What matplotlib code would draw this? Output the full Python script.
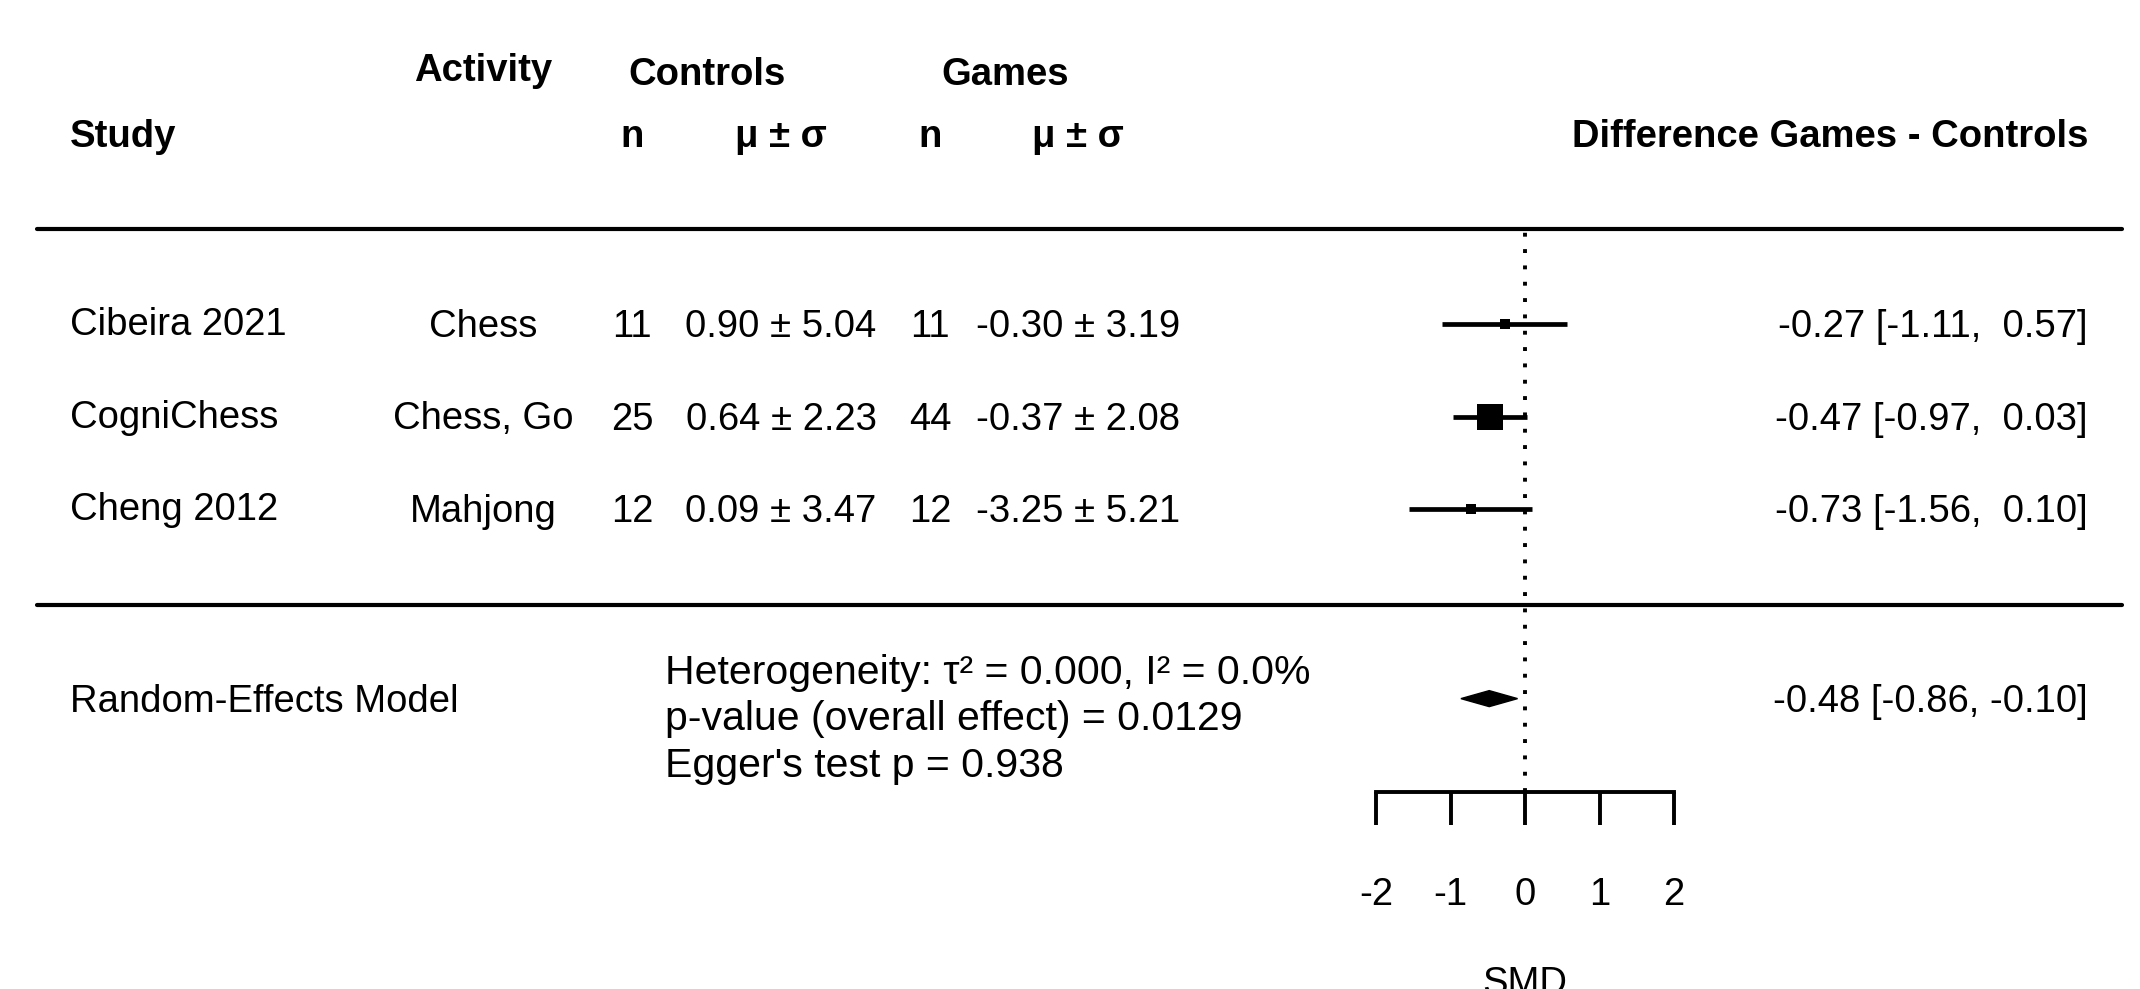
import numpy as np
import matplotlib.pyplot as plt
from matplotlib.patches import Polygon

studies = ["Cibeira 2021", "CogniChess", "Cheng 2012"]
activities = ["Chess", "Chess, Go", "Mahjong"]
n_controls = [11, 25, 12]
mean_controls = [0.90, 0.64, 0.09]
sd_controls = [5.04, 2.23, 3.47]
n_games = [11, 44, 12]
mean_games = [-0.30, -0.37, -3.25]
sd_games = [3.19, 2.08, 5.21]
smd = [-0.27, -0.47, -0.73]
ci_low = [-1.11, -0.97, -1.56]
ci_high = [0.57, 0.03, 0.10]

pooled_smd = -0.48
pooled_low = -0.86
pooled_high = -0.10
model_name = "Random-Effects Model"
stats_lines = [
    "Heterogeneity: \u03c4\u00b2 = 0.000, I\u00b2 = 0.0%",
    "p-value (overall effect) = 0.0129",
    "Egger's test p = 0.938",
]
xticks = [-2, -1, 0, 1, 2]

plt.rcParams['font.family'] = ['Liberation Sans', 'DejaVu Sans']
FS = 27.5
FS_STATS = 29.5

W, H = 2140, 989
fig = plt.figure(figsize=(W / 100, H / 100), dpi=100)

# text layer in pixel coordinates
ax_t = fig.add_axes([0, 0, 1, 1])
ax_t.set_xlim(0, W)
ax_t.set_ylim(H, 0)
ax_t.axis('off')

row0, row_h = 324, 92.5
summary_row = 4.05
top_px, axis_px = 232, 792
dy = 3  # small nudge for text baselines

def row_px(i):
    return row0 + i * row_h

# headers
ax_t.text(70, 134 + dy, "Study", fontsize=FS, fontweight='bold', ha='left', va='center')
ax_t.text(483, 68 + dy, "Activity", fontsize=FS, fontweight='bold', ha='center', va='center')
ax_t.text(707, 72 + dy, "Controls", fontsize=FS, fontweight='bold', ha='center', va='center')
ax_t.text(1005, 72 + dy, "Games", fontsize=FS, fontweight='bold', ha='center', va='center')
for x, s in [(632, "n"), (781, "\u03bc \u00b1 \u03c3"), (930, "n"), (1078, "\u03bc \u00b1 \u03c3")]:
    ax_t.text(x, 134 + dy, s, fontsize=FS, fontweight='bold', ha='center', va='center')
ax_t.text(2088, 134 + dy, "Difference Games - Controls", fontsize=FS, fontweight='bold',
          ha='right', va='center')

# separators
for y in (229, 605):
    ax_t.plot([37, 2122], [y, y], color='black', lw=3, solid_capstyle='round')

# study rows
for i in range(len(studies)):
    y = row_px(i) + dy
    ax_t.text(70, y - 2, studies[i], fontsize=FS, ha='left', va='center')
    ax_t.text(483, y, activities[i], fontsize=FS, ha='center', va='center')
    ax_t.text(632, y, str(n_controls[i]), fontsize=FS, ha='center', va='center')
    ax_t.text(781, y, f"{mean_controls[i]:.2f} \u00b1 {sd_controls[i]:.2f}", fontsize=FS,
              ha='center', va='center')
    ax_t.text(930, y, str(n_games[i]), fontsize=FS, ha='center', va='center')
    ax_t.text(1078, y, f"{mean_games[i]:.2f} \u00b1 {sd_games[i]:.2f}", fontsize=FS,
              ha='center', va='center')
    ax_t.text(2088, y, f"{smd[i]:.2f} [{ci_low[i]:.2f}, {ci_high[i]:5.2f}]", fontsize=FS,
              ha='right', va='center')

# summary row
ys = row_px(summary_row) + dy
ax_t.text(70, ys, model_name, fontsize=FS, ha='left', va='center')
for k, line in enumerate(stats_lines):
    ax_t.text(665, 673 + k * 46.5, line, fontsize=FS_STATS, ha='left', va='center')
ax_t.text(2088, ys, f"{pooled_smd:.2f} [{pooled_low:.2f}, {pooled_high:.2f}]", fontsize=FS,
          ha='right', va='center')
ax_t.text(1525, 966, "SMD", fontsize=FS, ha='center', va='top')

# forest panel
x0_px, x1_px = 1376, 1674
ax = fig.add_axes([x0_px / W, 1 - axis_px / H, (x1_px - x0_px) / W, (axis_px - top_px) / H])
ax.set_xlim(-2, 2)
ax.set_ylim((axis_px - row0) / row_h, (top_px - row0) / row_h)
ax.patch.set_alpha(0)
for side in ('top', 'left', 'right'):
    ax.spines[side].set_visible(False)
ax.spines['bottom'].set_linewidth(2.8)
ax.set_xticks(xticks)
ax.set_xticklabels([str(t) for t in xticks])
ax.tick_params(axis='x', direction='out', length=24, width=2.8, pad=37, labelsize=FS)
ax.set_yticks([])

ax.axvline(0, color='black', lw=2.8, linestyle=(0, (1, 3.2)), zorder=1)

se = (np.array(ci_high) - np.array(ci_low)) / 3.92
w = 1 / se ** 2
box = 18.7 * w / w.max()
rows = np.arange(len(studies))
for i in rows:
    ax.errorbar(smd[i], i, xerr=[[smd[i] - ci_low[i]], [ci_high[i] - smd[i]]],
                fmt='s', color='black', ms=box[i], mew=0, elinewidth=3.4,
                capsize=6, capthick=3.4, clip_on=False, zorder=3)

h = 8 / row_h
ax.add_patch(Polygon([[pooled_low, summary_row], [pooled_smd, summary_row - h],
                      [pooled_high, summary_row], [pooled_smd, summary_row + h]],
                     closed=True, color='black', zorder=3, clip_on=False))

fig.savefig("out.png", dpi=100)
